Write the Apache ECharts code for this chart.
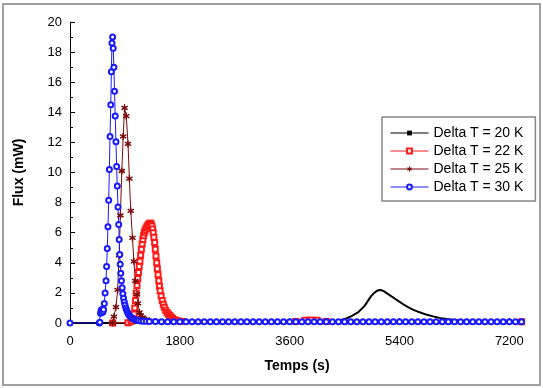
<!DOCTYPE html>
<html>
<head>
<meta charset="utf-8">
<script src="https://cdn.jsdelivr.net/npm/echarts@6/dist/echarts.min.js"></script>
<style>
html,body{margin:0;padding:0;background:#fff;}
#chart{width:543px;height:388px;}
</style>
</head>
<body>
<div id="chart"></div>
<script>
// legend names
var names = ['Delta T = 20 K', 'Delta T = 22 K', 'Delta T = 25 K', 'Delta T = 30 K'];
var xTicks = [0, 1800, 3600, 5400, 7200];
var xMinorTicks = [900, 2700, 4500, 6300];

// Delta T = 20 K (noir)
var t20 = [0, 1400, 1600, 1700, 1800, 1900, 2000, 2300, 3000, 4300, 4400, 4528, 4620, 4719, 4828, 4937, 5000, 5046, 5101, 5140, 5183, 5250, 5319, 5390, 5455, 5540, 5619, 5730, 5838, 5950, 6056, 6165, 6274, 6380, 6492, 6650, 6800, 7400];
var f20 = [0, 0.02, 0.08, 0.18, 0.2, 0.15, 0.1, 0.08, 0.08, 0.1, 0.15, 0.3, 0.48, 0.7, 1.14, 1.8, 2.05, 2.17, 2.19, 2.12, 2.0, 1.82, 1.63, 1.44, 1.26, 1.06, 0.89, 0.71, 0.56, 0.44, 0.34, 0.26, 0.21, 0.17, 0.15, 0.12, 0.1, 0.08];

// Delta T = 22 K (rouge)
var t22 = [700, 950, 1000, 1020, 1035, 1050, 1062, 1074, 1086, 1098, 1110, 1122, 1134, 1146, 1158, 1170, 1182, 1194, 1206, 1218, 1230, 1245, 1262, 1279, 1296, 1308, 1320, 1331, 1342, 1353, 1364, 1375, 1387, 1398, 1409, 1421, 1432, 1443, 1455, 1466, 1477, 1494, 1511, 1528, 1545, 1567, 1590, 1613, 1636, 1658, 1681, 1709, 1737, 1780, 1850, 3700, 3850, 3950, 4050, 4200, 7400];
var f22 = [0, 0.02, 0.1, 0.25, 0.4, 0.6, 1.0, 1.5, 2.0, 2.5, 2.95, 3.35, 3.75, 4.1, 4.5, 4.9, 5.25, 5.55, 5.8, 6.0, 6.15, 6.3, 6.42, 6.52, 6.58, 6.62, 6.62, 6.55, 6.45, 6.25, 6.0, 5.7, 5.35, 4.9, 4.45, 4.0, 3.6, 3.2, 2.8, 2.45, 2.15, 1.8, 1.5, 1.25, 1.05, 0.85, 0.7, 0.58, 0.5, 0.4, 0.3, 0.22, 0.18, 0.14, 0.1, 0.1, 0.18, 0.2, 0.18, 0.1, 0.08];

// Delta T = 25 K (bordeaux)
var t25 = [700, 719, 753, 781, 804, 826, 849, 872, 894, 922, 951, 973, 996, 1024, 1047, 1070, 1098, 1115, 1138, 1160, 1190, 1217, 1250, 1300, 1400, 7400];
var f25 = [0, 0.42, 1.05, 2.2, 4.5, 7.15, 10.1, 12.4, 14.3, 13.75, 11.9, 9.6, 7.45, 5.65, 4.1, 2.8, 1.9, 1.3, 0.7, 0.5, 0.35, 0.25, 0.2, 0.15, 0.1, 0.08];

// Delta T = 30 K (bleu)
var t30 = [0, 480, 490, 500, 510, 520, 530, 540, 550, 562, 575, 590, 600, 611, 622, 634, 645, 656, 668, 678, 688, 698, 708, 719, 730, 741, 753, 764, 775, 787, 798, 806, 815, 823, 832, 843, 855, 866, 878, 890, 902, 915, 928, 942, 956, 972, 990, 1010, 1035, 1060, 1090, 1120, 1160, 1200, 1250,
  1300, 1400, 1500, 1600, 1700, 1800, 1900, 2000, 2100, 2200, 2300, 2400, 2500, 2600, 2700, 2800, 2900, 3000, 3100, 3200, 3300, 3400, 3500, 3600, 3700, 3800, 3900, 4000, 4100, 4200, 4300, 4400, 4500, 4600, 4700, 4800, 4900, 5000, 5100, 5200, 5300, 5400, 5500, 5600, 5700, 5800, 5900, 6000, 6100, 6200, 6300, 6400, 6500, 6600, 6700, 6800, 6900, 7000, 7100, 7200, 7300, 7400];
var f30 = [0, 0, 0.05, 0.65, 0.85, 0.9, 0.7, 0.75, 0.9, 1.3, 2.0, 2.8, 3.75, 4.95, 6.4, 8.15, 10.2, 12.4, 14.5, 16.7, 18.6, 19.0, 18.25, 17.0, 15.4, 13.75, 12.05, 10.4, 9.1, 7.7, 6.55, 5.55, 4.55, 3.9, 3.3, 2.8, 2.35, 1.95, 1.65, 1.4, 1.2, 1.0, 0.85, 0.72, 0.6, 0.5, 0.42, 0.35, 0.28, 0.23, 0.19, 0.16, 0.14, 0.12, 0.11,
  0.1, 0.1, 0.09, 0.09, 0.09, 0.09, 0.09, 0.08, 0.08, 0.08, 0.08, 0.08, 0.08, 0.08, 0.08, 0.08, 0.08, 0.08, 0.08, 0.08, 0.08, 0.08, 0.08, 0.08, 0.08, 0.08, 0.08, 0.08, 0.08, 0.08, 0.08, 0.08, 0.08, 0.08, 0.08, 0.08, 0.08, 0.08, 0.08, 0.08, 0.08, 0.08, 0.08, 0.08, 0.08, 0.08, 0.08, 0.08, 0.08, 0.08, 0.08, 0.08, 0.08, 0.08, 0.08, 0.08, 0.08, 0.08, 0.08, 0.08, 0.08, 0.08];

function pairs(t, f){
	var out = [];
	for (var i = 0; i < t.length; i++) out.push([t[i], f[i]]);
	return out;
}

// asterisque (marqueur Origin)
var star = 'path://M4,0 L6,0 L6,10 L4,10 Z M8.8,1.6 L9.8,3.4 L1.2,8.4 L0.2,6.6 Z M1.2,1.6 L9.8,6.6 L8.8,8.4 L0.2,3.4 Z';

var font = '"Liberation Sans", Arial, sans-serif';
var chart = echarts.init(document.getElementById('chart'));

var option = {
	animation: false,
	backgroundColor: '#fff',
	textStyle: {fontFamily: font},
	graphic: [{
		type: 'rect',
		shape: {x: 3, y: 4, width: 537, height: 381},
		style: {fill: 'none', stroke: '#a0a0a0', lineWidth: 2},
		silent: true
	}],
	grid: {left: 70, right: 19, top: 22, bottom: 65, containLabel: false},
	legend: {
		orient: 'vertical',
		left: 382,
		top: 117,
		padding: [9, 12, 7, 8],
		borderColor: '#888',
		borderWidth: 1.5,
		itemWidth: 38,
		itemHeight: 6,
		itemGap: 4,
		lineStyle: {width: 1},
		itemStyle: {borderWidth: 1},
		textStyle: {fontSize: 14, color: '#000', fontFamily: font},
		data: names
	},
	xAxis: [{
		type: 'value',
		min: 0,
		max: 7440,
		interval: 1800,
		name: 'Temps (s)',
		nameLocation: 'middle',
		nameGap: 36,
		nameTextStyle: {fontSize: 14, fontWeight: 'bold', color: '#000', fontFamily: font},
		axisLine: {lineStyle: {color: '#000', width: 1}},
		axisTick: {inside: true, length: 5, customValues: xTicks, lineStyle: {color: '#000'}},
		axisLabel: {
			fontSize: 13, color: '#000', margin: 12, customValues: xTicks,
			formatter: function(v){ return v % 1800 === 0 ? String(v) : ''; }
		},
		splitLine: {show: false}
	}, {
		type: 'value',
		position: 'bottom',
		min: 0,
		max: 7440,
		axisLine: {show: false},
		axisTick: {inside: true, length: 3, customValues: xMinorTicks, lineStyle: {color: '#000'}},
		axisLabel: {show: false},
		splitLine: {show: false}
	}],
	yAxis: {
		type: 'value',
		min: 0,
		max: 20,
		interval: 2,
		name: 'Flux (mW)',
		nameLocation: 'middle',
		nameGap: 44,
		nameTextStyle: {fontSize: 14, fontWeight: 'bold', color: '#000', fontFamily: font},
		axisLine: {show: true, lineStyle: {color: '#000', width: 1}},
		axisTick: {inside: true, length: 5, lineStyle: {color: '#000'}},
		minorTick: {show: true, splitNumber: 2, length: 3, lineStyle: {color: '#000'}},
		axisLabel: {fontSize: 13, color: '#000', margin: 8},
		splitLine: {show: false}
	},
	series: [{
		name: names[0],
		type: 'line',
		data: pairs(t20, f20),
		symbol: 'rect',
		symbolSize: [3, 1],
		showSymbol: false,
		color: '#000',
		lineStyle: {width: 2}
	}, {
		name: names[1],
		type: 'line',
		data: pairs(t22, f22),
		symbol: 'emptyRect',
		symbolSize: 5,
		color: '#ff1a1a',
		lineStyle: {width: 1},
		itemStyle: {borderWidth: 1}
	}, {
		name: names[2],
		type: 'line',
		data: pairs(t25, f25),
		symbol: star,
		symbolSize: 7,
		color: '#7a0a0a',
		lineStyle: {width: 1}
	}, {
		name: names[3],
		type: 'line',
		data: pairs(t30, f30),
		symbol: 'emptyCircle',
		symbolSize: 5,
		color: '#1a1aff',
		lineStyle: {width: 1},
		itemStyle: {borderWidth: 0.9}
	}]
};
chart.setOption(option);
</script>
</body>
</html>
